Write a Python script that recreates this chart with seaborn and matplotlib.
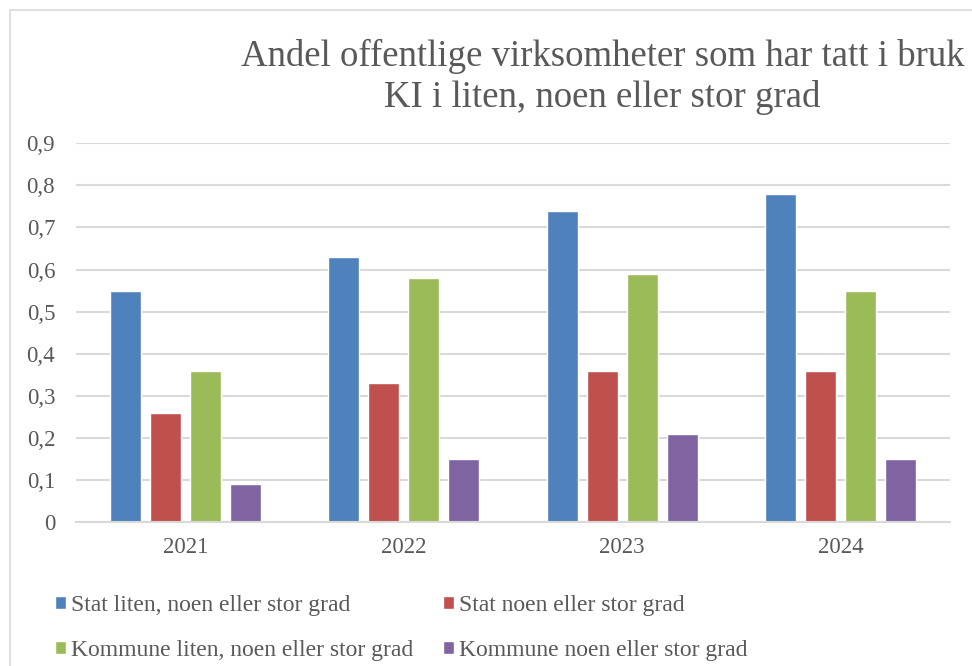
import numpy as np
import pandas as pd
import seaborn as sns
import matplotlib.pyplot as plt
from matplotlib.patches import Rectangle
from matplotlib.ticker import FuncFormatter

# Data
years = ["2021", "2022", "2023", "2024"]
series = [
    "Stat liten, noen eller stor grad",
    "Stat noen eller stor grad",
    "Kommune liten, noen eller stor grad",
    "Kommune noen eller stor grad",
]
stat_liten = [0.55, 0.63, 0.74, 0.78]
stat_noen = [0.26, 0.33, 0.36, 0.36]
kommune_liten = [0.36, 0.58, 0.59, 0.55]
kommune_noen = [0.09, 0.15, 0.21, 0.15]
colors = ["#4F81BD", "#C0504D", "#9BBB59", "#8064A2"]

# Long format for seaborn
rows = []
for name, vals in zip(series, [stat_liten, stat_noen, kommune_liten, kommune_noen]):
    for y, v in zip(years, vals):
        rows.append((y, name, v))
df = pd.DataFrame(rows, columns=["År", "Serie", "Andel"])

sns.set_style("white")
plt.rcParams["font.family"] = ["Liberation Serif", "DejaVu Serif"]
text_color = "#595959"
grid_color = "#D9D9D9"

fig = plt.figure(figsize=(9.72, 6.66), dpi=100)
ax = fig.add_axes([0.0782, 0.216, 0.899, 0.569])

sns.barplot(data=df, x="År", y="Andel", hue="Serie", hue_order=series,
            palette=colors, width=0.732, gap=0.225, saturation=1,
            ax=ax, errorbar=None)

ax.set_ylim(0, 0.9)
ax.set_yticks(np.arange(0, 0.91, 0.1))
ax.yaxis.set_major_formatter(FuncFormatter(
    lambda v, p: "0" if abs(v) < 1e-9 else f"{v:.1f}".replace(".", ",")))
ax.grid(axis="y", color=grid_color, linewidth=1.5)
ax.set_axisbelow(True)
for side in ["top", "right", "left"]:
    ax.spines[side].set_visible(False)
ax.spines["bottom"].set_color(grid_color)
ax.spines["bottom"].set_linewidth(1.5)
ax.tick_params(axis="y", length=0, pad=15, labelsize=16.5, labelcolor=text_color)
ax.tick_params(axis="x", length=0, pad=11, labelsize=16.5, labelcolor=text_color)
ax.set_xlabel("")
ax.set_ylabel("")

fig.text(0.62, 0.885, "Andel offentlige virksomheter som har tatt i bruk\nKI i liten, noen eller stor grad",
         ha="center", va="center", fontsize=26.5, color=text_color, linespacing=1.22)

# Legend at the bottom, two columns
handles, labels = ax.get_legend_handles_labels()
ax.get_legend().remove()
order = [0, 2, 1, 3]
fig.legend([handles[i] for i in order], [labels[i] for i in order],
           loc="upper left", bbox_to_anchor=(0.0566, 0.1066), ncol=2,
           frameon=False, fontsize=17, labelcolor=text_color,
           handlelength=0.47, handleheight=0.47, handletextpad=0.22,
           columnspacing=1.25, labelspacing=1.03, borderaxespad=0,
           borderpad=0)

# Light chart-area border
fig.add_artist(Rectangle((10 / 972, -0.1), 1.2, 1 - 10 / 666 + 0.1,
                         transform=fig.transFigure, fill=False,
                         edgecolor="#D9D9D9", linewidth=1.2))

fig.savefig("out.png", dpi=100)
